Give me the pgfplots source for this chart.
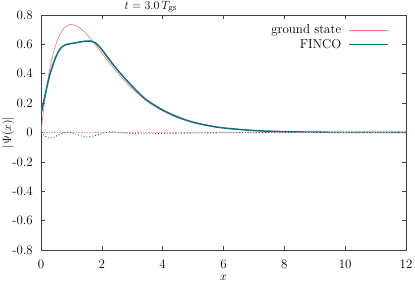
\documentclass[border=0pt]{standalone}
\usepackage{pgfplots}
\pgfplotsset{compat=1.18}
\definecolor{gsred}{RGB}{242,120,108}
\definecolor{fteal}{RGB}{16,108,128}
\begin{document}
\fontsize{13}{15}\selectfont
\begin{tikzpicture}
\useasboundingbox (-41bp,-33bp) rectangle (374bp,250bp);
\begin{axis}[
  at={(0,0)}, anchor=south west, scale only axis,
  width=365bp, height=235bp,
  xmin=0, xmax=12, ymin=-0.8, ymax=0.8,
  xtick={0,2,4,6,8,10,12},
  xticklabels={0,2,4,6,8,10,12},
  ytick={-0.8,-0.6,-0.4,-0.2,0,0.2,0.4,0.6,0.8},
  yticklabels={-0.8,-0.6,-0.4,-0.2,0,0.2,0.4,0.6,0.8},
  tick align=inside, major tick length=4bp,
  axis line style={black!75, line width=0.6pt},
  every tick/.style={black!75, line width=0.5pt},
  yticklabel style={inner sep=0pt, anchor=east, xshift=-8bp},
  xticklabel style={inner sep=0pt, anchor=north, yshift=-10bp},
  xlabel={$x$}, ylabel={$|\Psi(x)|$},
  xlabel style={at={(axis description cs:0.5,0)}, anchor=north, inner sep=0pt, yshift=-25bp},
  ylabel style={at={(axis description cs:-0.09,0.5)}, anchor=center, inner sep=0pt},
  title={$t = 3.0\,T_{\mathrm{gs}}$},
  title style={at={(axis description cs:0.301,1)}, anchor=base, inner sep=0pt, yshift=0bp},
  legend style={draw=none, fill=none, at={(axis description cs:0.953,0.964)}, anchor=north east,
    inner sep=0pt, nodes={inner sep=1pt}, row sep=1.5bp, column sep=6bp},
  legend cell align=right,
  legend plot pos=right,
  legend image code/.code={\draw[#1] (0bp,0bp) -- (39bp,0bp);},
]
\addplot[gsred, line width=0.6pt, smooth] coordinates {
(0,0) (0.1,0.181) (0.2,0.327) (0.3,0.444) (0.4,0.536) (0.5,0.607) (0.6,0.659)
(0.7,0.695) (0.8,0.719) (0.9,0.732) (1.0,0.736) (1.2,0.723) (1.4,0.690)
(1.6,0.646) (1.8,0.595) (2.0,0.541) (2.25,0.474) (2.5,0.410) (2.75,0.352)
(3.0,0.299) (3.5,0.211) (4.0,0.147) (4.5,0.100) (5,0.0674) (5.5,0.045)
(6,0.0297) (7,0.0128) (8,0.0054) (9,0.0022) (10,0.0009) (11,0.0004) (12,0.0002)};
\addlegendentry{ground state}
\addplot[fteal, line width=1.5pt, smooth] coordinates {
(0,0.125) (0.1,0.22) (0.2,0.315) (0.3,0.40) (0.4,0.465) (0.5,0.52) (0.6,0.56)
(0.7,0.585) (0.8,0.597) (1.0,0.606) (1.2,0.613) (1.4,0.62) (1.6,0.623)
(1.8,0.608) (2.0,0.565) (2.25,0.495) (2.5,0.43) (2.75,0.37) (3.0,0.315)
(3.25,0.262) (3.5,0.217) (4.0,0.153) (4.5,0.105) (5,0.070) (5.5,0.047)
(6,0.031) (7,0.0135) (8,0.0057) (9,0.0024) (10,0.001) (11,0.0004) (12,0.0002)};
\addlegendentry{FINCO}
\addplot[gsred!70, line width=0.6pt, densely dotted, forget plot] coordinates {
(0,0) (12,0)};
\addplot[fteal, line width=0.9pt, dotted, smooth, forget plot] coordinates {
(0,0) (0.1,-0.02) (0.25,-0.037) (0.4,-0.035) (0.6,-0.015) (0.8,0) (1.0,-0.003)
(1.2,-0.015) (1.45,-0.03) (1.7,-0.025) (2.0,-0.008) (2.3,0.005) (2.6,0.0)
(3.0,-0.007) (3.5,-0.009) (4,-0.007) (5,-0.004) (6,-0.002) (7,-0.001) (8,0) (12,0)};
\end{axis}
\end{tikzpicture}
\end{document}
